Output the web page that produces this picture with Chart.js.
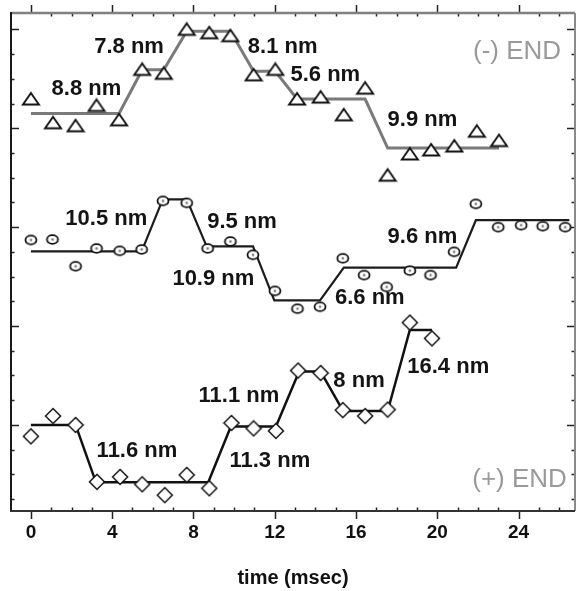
<!DOCTYPE html>
<html>
<head>
<meta charset="utf-8">
<script src="https://cdn.jsdelivr.net/npm/chart.js@4/dist/chart.umd.min.js"></script>
<style>
  html, body { margin: 0; padding: 0; background: #fff; }
  canvas { display: block; }
</style>
</head>
<body>
<canvas id="steps" width="582" height="591"></canvas>
<script>
// ---- time axis (msec) ----
const xTickValues = [0, 4, 8, 12, 16, 20, 24];

// ---- (-) END bead trace: sample times (ms) and positions (nm) ----
const minusEndTime = [0, 1.09, 2.2, 3.23, 4.34, 5.48, 6.54, 7.67, 8.78, 9.82, 10.96, 12.03, 13.1, 14.26, 15.4, 16.45, 17.56, 18.65, 19.7, 20.84, 21.95, 23.04];
const minusEndPos  = [85.9, 81.1, 80.5, 84.6, 81.7, 91.9, 91.1, 100.0, 99.3, 98.7, 90.8, 91.9, 85.9, 86.3, 82.7, 88.1, 70.5, 74.8, 75.6, 76.4, 79.4, 77.5];
// fitted dwell levels (nm) and their start/end times (ms)
const minusEndLevels = [83.0, 91.8, 99.6, 91.5, 85.9, 76.0];
const minusEndDwells = [[0, 4.34], [5.48, 6.54], [7.67, 9.82], [10.96, 12.03], [13.1, 16.45], [17.56, 23.04]];

// ---- middle trace ----
const midTime = [0, 1.06, 2.2, 3.23, 4.37, 5.45, 6.5, 7.67, 8.7, 9.82, 10.93, 12.01, 13.12, 14.23, 15.35, 16.4, 17.51, 18.65, 19.67, 20.83, 21.9, 23.0, 24.13, 25.19, 26.3];
const midPos  = [57.4, 57.5, 52.1, 55.7, 55.2, 55.5, 65.3, 64.9, 55.7, 57.1, 54.4, 47.1, 43.5, 43.9, 53.7, 50.3, 47.9, 51.2, 50.3, 55.0, 64.7, 60.0, 60.4, 60.2, 60.0];
const midLevels = [55.1, 65.6, 56.1, 45.2, 51.8, 61.4];
const midDwells = [[0, 5.45], [6.49, 7.67], [8.65, 10.93], [11.98, 14.23], [15.4, 20.93], [21.9, 26.5]];

// ---- (+) END bead trace ----
const plusEndTime = [0, 1.09, 2.2, 3.25, 4.39, 5.48, 6.59, 7.67, 8.78, 9.87, 10.96, 12.06, 13.15, 14.26, 15.35, 16.45, 17.56, 18.65, 19.74];
const plusEndPos  = [17.7, 21.8, 20.0, 8.5, 9.5, 8.0, 5.8, 9.9, 7.2, 20.4, 19.3, 18.8, 31.0, 30.5, 23.0, 21.8, 23.1, 40.7, 37.5];
const plusEndLevels = [20.0, 8.4, 19.7, 30.8, 22.8, 39.2];
const plusEndDwells = [[0, 2.2], [3.2, 8.73], [9.84, 12.06], [13.2, 14.26], [15.37, 17.56], [18.65, 19.74]];

// ---- where each step-size caption sits (data coordinates) ----
const traces = {
  minus: minusEndLevels,
  mid: midLevels,
  plus: plusEndLevels
};
const stepCaptions = [
  { trace: 'minus', step: 0, x: 2.73, y: 87.9 },
  { trace: 'minus', step: 1, x: 4.83, y: 96.4 },
  { trace: 'minus', step: 2, x: 12.39, y: 96.4 },
  { trace: 'minus', step: 3, x: 14.49, y: 90.8 },
  { trace: 'minus', step: 4, x: 19.27, y: 81.7 },
  { trace: 'mid', step: 0, x: 3.71, y: 61.6 },
  { trace: 'mid', step: 1, x: 10.39, y: 61.0 },
  { trace: 'mid', step: 2, x: 8.98, y: 49.5 },
  { trace: 'mid', step: 3, x: 16.68, y: 45.7 },
  { trace: 'mid', step: 4, x: 19.27, y: 58.0 },
  { trace: 'plus', step: 0, x: 5.22, y: 14.7 },
  { trace: 'plus', step: 1, x: 11.76, y: 12.7 },
  { trace: 'plus', step: 2, x: 10.24, y: 25.8 },
  { trace: 'plus', step: 3, x: 16.15, y: 28.9 },
  { trace: 'plus', step: 4, x: 20.54, y: 31.7 }
];
const endCaptions = [
  { text: '(-) END', x: 23.93, y: 95.4 },
  { text: '(+) END', x: 24.05, y: 8.84 }
];

// ---- helpers ----
const toPoints = (xs, ys) => xs.map((x, i) => ({ x: x, y: ys[i] }));
const dwellPath = (levels, dwells) => {
  const pts = [];
  levels.forEach((lv, i) => {
    pts.push({ x: dwells[i][0], y: lv });
    pts.push({ x: dwells[i][1], y: lv });
  });
  return pts;
};
const stepText = (levels, i) => {
  const d = Math.abs(levels[i + 1] - levels[i]);
  return parseFloat(d.toFixed(1)) + ' nm';
};

function makeMarker(w, h, draw) {
  const c = document.createElement('canvas');
  c.width = w; c.height = h;
  draw(c.getContext('2d'));
  return c;
}
const triangleMark = makeMarker(20, 16, g => {
  g.beginPath();
  g.moveTo(10, 2); g.lineTo(18, 13.5); g.lineTo(2, 13.5); g.closePath();
  g.fillStyle = '#fff'; g.fill();
  g.lineWidth = 1.9; g.strokeStyle = '#111'; g.lineJoin = 'miter'; g.stroke();
});
const ovalMark = makeMarker(16, 13, g => {
  g.beginPath();
  g.ellipse(8, 6.5, 5.5, 4.3, 0, 0, Math.PI * 2);
  g.fillStyle = '#fff'; g.fill();
  g.lineWidth = 1.8; g.strokeStyle = '#111'; g.stroke();
  g.beginPath();
  g.arc(8, 6.5, 1.3, 0, Math.PI * 2);
  g.fillStyle = '#777'; g.fill();
});
const diamondMark = makeMarker(18, 18, g => {
  g.beginPath();
  g.moveTo(9, 1.5); g.lineTo(16.5, 9); g.lineTo(9, 16.5); g.lineTo(1.5, 9); g.closePath();
  g.fillStyle = '#fff'; g.fill();
  g.lineWidth = 1.5; g.strokeStyle = '#111'; g.stroke();
});

// frame with inward minor ticks and outward major time ticks
const framePlugin = {
  id: 'frame',
  beforeDatasetsDraw(chart) {
    const { ctx, chartArea: a, scales } = chart;
    const xs = scales.x, ys = scales.y;
    ctx.save();
    ctx.lineCap = 'butt';
    ctx.strokeStyle = '#222';
    ctx.lineWidth = 1.5;
    ctx.beginPath();
    for (let t = Math.ceil(xs.min); t <= Math.floor(xs.max); t++) {
      const px = Math.round(xs.getPixelForValue(t)) + 0.5;
      if (t % 4 === 0) {
        ctx.moveTo(px, a.top); ctx.lineTo(px, a.top - 8);
        ctx.moveTo(px, a.bottom); ctx.lineTo(px, a.bottom + 8);
      } else {
        ctx.moveTo(px, a.top); ctx.lineTo(px, a.top + 3.5);
        ctx.moveTo(px, a.bottom); ctx.lineTo(px, a.bottom - 3.5);
      }
    }
    for (let v = 5; v <= 100; v += 5) {
      const py = Math.round(ys.getPixelForValue(v)) + 0.5;
      const len = v % 20 === 0 ? 8 : 3.5;
      ctx.moveTo(a.left, py); ctx.lineTo(a.left + len, py);
      ctx.moveTo(a.right, py); ctx.lineTo(a.right - len, py);
    }
    ctx.stroke();
    ctx.lineWidth = 2.5;
    ctx.strokeStyle = '#808080';
    ctx.beginPath(); ctx.moveTo(a.left, a.top); ctx.lineTo(a.right, a.top); ctx.stroke();
    ctx.lineWidth = 2;
    ctx.strokeStyle = '#8a8a8a';
    ctx.beginPath(); ctx.moveTo(a.right, a.top); ctx.lineTo(a.right, a.bottom); ctx.stroke();
    ctx.strokeStyle = '#1a1a1a';
    ctx.beginPath(); ctx.moveTo(a.left, a.top - 1); ctx.lineTo(a.left, a.bottom); ctx.stroke();
    ctx.strokeStyle = '#333';
    ctx.beginPath(); ctx.moveTo(a.left - 1, a.bottom); ctx.lineTo(a.right, a.bottom); ctx.stroke();
    ctx.restore();
  }
};

// step-size captions and end labels
const captionPlugin = {
  id: 'captions',
  afterDatasetsDraw(chart) {
    const { ctx, scales } = chart;
    ctx.save();
    ctx.textAlign = 'center';
    ctx.textBaseline = 'middle';
    ctx.fillStyle = '#141414';
    ctx.font = 'bold 22px "Liberation Sans", Arial, sans-serif';
    stepCaptions.forEach(c => {
      ctx.fillText(stepText(traces[c.trace], c.step),
        scales.x.getPixelForValue(c.x), scales.y.getPixelForValue(c.y));
    });
    ctx.fillStyle = '#9a9a9a';
    ctx.font = '26px "Liberation Sans", Arial, sans-serif';
    endCaptions.forEach(c => {
      ctx.fillText(c.text, scales.x.getPixelForValue(c.x), scales.y.getPixelForValue(c.y));
    });
    ctx.restore();
  }
};

new Chart(document.getElementById('steps'), {
  type: 'scatter',
  data: {
    datasets: [
      { label: '(-) END', data: toPoints(minusEndTime, minusEndPos), pointStyle: triangleMark, pointRadius: 6, showLine: false, order: 0 },
      { label: 'middle', data: toPoints(midTime, midPos), pointStyle: ovalMark, pointRadius: 6, showLine: false, order: 0 },
      { label: '(+) END', data: toPoints(plusEndTime, plusEndPos), pointStyle: diamondMark, pointRadius: 6, showLine: false, order: 0 },
      { label: '(-) END fit', data: dwellPath(minusEndLevels, minusEndDwells), showLine: true, pointRadius: 0, borderColor: '#7a7a7a', borderWidth: 3, tension: 0, order: 1 },
      { label: 'middle fit', data: dwellPath(midLevels, midDwells), showLine: true, pointRadius: 0, borderColor: '#1c1c1c', borderWidth: 2.2, tension: 0, order: 1 },
      { label: '(+) END fit', data: dwellPath(plusEndLevels, plusEndDwells), showLine: true, pointRadius: 0, borderColor: '#111', borderWidth: 2.5, tension: 0, order: 1 }
    ]
  },
  options: {
    responsive: false,
    animation: false,
    devicePixelRatio: 1,
    events: [],
    layout: { padding: { left: 11, right: 2, top: 13, bottom: 0 } },
    plugins: { legend: { display: false }, tooltip: { enabled: false } },
    scales: {
      x: {
        type: 'linear',
        position: 'bottom',
        min: -0.98,
        max: 26.78,
        grid: { display: false, drawTicks: false },
        border: { display: false },
        afterBuildTicks: s => { s.ticks = xTickValues.map(v => ({ value: v })); },
        afterFit: s => { s.height = 80; },
        ticks: {
          autoSkip: false,
          maxRotation: 0,
          padding: 10,
          color: '#111',
          font: { family: '"Liberation Sans", Arial, sans-serif', weight: 'bold', size: 19 }
        },
        title: {
          display: true,
          text: 'time (msec)',
          color: '#111',
          padding: { top: 0, bottom: 1 },
          font: { family: '"Liberation Sans", Arial, sans-serif', weight: 'bold', size: 20 }
        }
      },
      y: {
        type: 'linear',
        display: false,
        min: 2.6,
        max: 103.3
      }
    }
  },
  plugins: [framePlugin, captionPlugin]
});
</script>
</body>
</html>
